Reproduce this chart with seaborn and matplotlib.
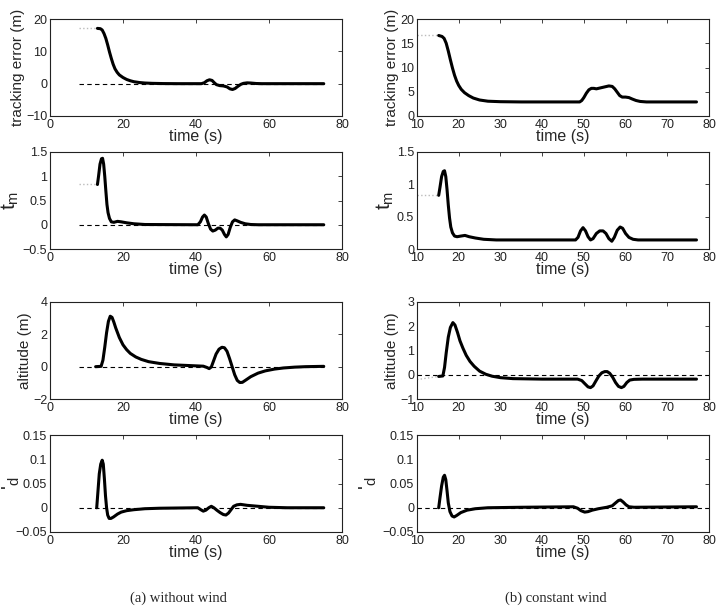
import numpy as np
import matplotlib
matplotlib.use("Agg")
import matplotlib.pyplot as plt
import seaborn as sns

sns.set_theme(style="white")
plt.rcParams.update({
    "font.family": ["Liberation Sans", "DejaVu Sans"],
    "mathtext.default": "regular",
    "xtick.direction": "in",
    "ytick.direction": "in",
    "xtick.top": True,
    "ytick.right": True,
    "xtick.major.size": 3,
    "ytick.major.size": 3,
    "xtick.major.width": 0.6,
    "ytick.major.width": 0.6,
    "axes.edgecolor": "#222222",
    "axes.linewidth": 0.8,
})

# ---- (a) without wind ----
t_err_a = [13, 13.8, 14.3, 14.8, 15.3, 15.8, 16.3, 16.8, 17.3, 17.8, 18.4, 19, 20, 21, 22, 23, 24.5, 26, 28, 31, 35,
           41.5, 42.3, 43, 43.7, 44.4, 45, 45.6, 46.5, 47.5, 48.5, 49.3, 50, 50.7, 51.5, 52.3, 53, 54, 55, 56.5, 58, 75]
e_err_a = [17.1, 17.0, 16.6, 15.5, 14.0, 12.0, 9.8, 7.8, 6.0, 4.6, 3.5, 2.7, 1.9, 1.3, 0.9, 0.6, 0.35, 0.2, 0.1, 0.03, 0.0,
           0.0, 0.3, 0.9, 1.2, 1.0, 0.3, -0.3, -0.6, -0.7, -1.0, -1.6, -1.8, -1.5, -0.8, -0.2, 0.1, 0.25, 0.2, 0.05, 0.0, 0.0]

t_tm_a = [13, 13.3, 13.7, 14.1, 14.4, 14.7, 15, 15.3, 15.6, 15.9, 16.3, 16.8, 17.5, 18.5, 19.5, 21, 23, 26, 40.5,
          41.2, 41.8, 42.3, 42.8, 43.4, 44, 44.6, 45.3, 46, 46.6, 47.2, 47.8, 48.3, 48.8, 49.4, 50, 50.6, 51.3, 52.2,
          53.5, 55, 57, 75]
v_tm_a = [0.83, 1.0, 1.25, 1.36, 1.37, 1.25, 1.0, 0.7, 0.42, 0.25, 0.13, 0.06, 0.05, 0.07, 0.06, 0.04, 0.02, 0.005, 0.0,
          0.06, 0.16, 0.2, 0.16, 0.02, -0.09, -0.13, -0.11, -0.07, -0.07, -0.11, -0.2, -0.25, -0.2, -0.05, 0.06, 0.1,
          0.08, 0.05, 0.02, 0.005, 0.0, 0.0]

t_alt_a = [12.5, 14, 14.5, 15, 15.5, 16, 16.5, 17, 17.5, 18, 19, 20, 21, 22, 23.5, 25, 27, 30, 34, 38, 42, 43, 43.6,
           44.2, 44.8, 45.5, 46.3, 47.1, 47.8, 48.5, 49.2, 49.9, 50.6, 51.3, 52, 52.7, 53.5, 55, 57, 59, 61.5, 64, 67,
           70, 75]
v_alt_a = [0.0, 0.02, 0.4, 1.2, 2.1, 2.8, 3.12, 3.05, 2.75, 2.4, 1.8, 1.35, 1.05, 0.82, 0.6, 0.45, 0.31, 0.2, 0.11,
           0.07, 0.03, -0.05, -0.12, -0.02, 0.35, 0.78, 1.08, 1.2, 1.17, 0.95, 0.5, 0.0, -0.5, -0.85, -0.98, -0.97,
           -0.85, -0.62, -0.4, -0.26, -0.15, -0.08, -0.03, 0.0, 0.02]

t_psi_a = [12.8, 13.1, 13.5, 13.9, 14.3, 14.6, 14.9, 15.2, 15.5, 15.8, 16.2, 16.7, 17.4, 18.5, 19.5, 21, 23, 26, 30,
           40.5, 41.3, 42, 42.7, 43.5, 44.2, 44.9, 45.7, 46.6, 47.5, 48.2, 48.9, 49.6, 50.3, 51.2, 52.2, 54, 57, 60,
           65, 75]
v_psi_a = [0.0, 0.03, 0.07, 0.09, 0.098, 0.09, 0.06, 0.025, 0.0, -0.015, -0.022, -0.022, -0.019, -0.013, -0.009,
           -0.006, -0.004, -0.002, -0.001, 0.0, -0.004, -0.007, -0.005, 0.0, 0.003, 0.0, -0.005, -0.010, -0.014,
           -0.015, -0.011, -0.004, 0.003, 0.006, 0.007, 0.005, 0.003, 0.001, 0.0, 0.0]

# ---- (b) constant wind ----
t_err_b = [15.2, 16, 16.5, 17, 17.5, 18, 18.5, 19, 19.5, 20, 20.6, 21.4, 22.4, 23.5, 25, 27, 30, 35, 49, 49.5, 50,
           50.6, 51.2, 51.8, 52.4, 53, 54, 55, 56, 56.8, 57.4, 58, 58.6, 59.2, 60, 60.8, 61.6, 62.5, 63.5, 65, 77]
e_err_b = [16.6, 16.4, 16.0, 15.0, 13.4, 11.6, 9.9, 8.4, 7.2, 6.3, 5.5, 4.8, 4.2, 3.7, 3.3, 3.05, 2.95, 2.9, 2.9,
           3.2, 3.8, 4.7, 5.4, 5.7, 5.7, 5.6, 5.8, 6.0, 6.2, 6.1, 5.6, 4.9, 4.2, 3.9, 3.9, 3.8, 3.5, 3.2, 3.0, 2.9, 2.9]

t_tm_b = [15.2, 15.5, 15.9, 16.3, 16.6, 16.9, 17.2, 17.5, 17.8, 18.1, 18.5, 19, 19.6, 20.5, 21.5, 22.5, 24, 26, 29,
          48, 48.6, 49.2, 49.8, 50.4, 51, 51.6, 52.2, 53, 53.8, 54.6, 55.3, 56, 56.7, 57.3, 58, 58.7, 59.3, 60, 60.8,
          61.8, 63, 77]
v_tm_b = [0.83, 0.95, 1.12, 1.2, 1.21, 1.12, 0.92, 0.68, 0.48, 0.34, 0.25, 0.2, 0.19, 0.2, 0.21, 0.19, 0.17, 0.15,
          0.14, 0.14, 0.18, 0.28, 0.33, 0.28, 0.19, 0.14, 0.16, 0.24, 0.28, 0.28, 0.24, 0.16, 0.12, 0.18, 0.29, 0.34,
          0.32, 0.24, 0.18, 0.15, 0.14, 0.14]

t_alt_b = [15.2, 16.2, 16.6, 17, 17.5, 18, 18.6, 19.1, 19.7, 20.3, 21, 21.8, 22.7, 23.7, 25, 26.5, 28, 30, 33, 40,
           48.5, 49.5, 50.3, 51, 51.6, 52.2, 52.9, 53.6, 54.3, 55, 55.6, 56.2, 56.9, 57.6, 58.3, 59, 59.6, 60.3, 61,
           62, 64, 77]
v_alt_b = [-0.07, -0.05, 0.3, 0.9, 1.55, 1.95, 2.15, 2.05, 1.75, 1.4, 1.1, 0.8, 0.55, 0.35, 0.15, 0.02, -0.06, -0.12,
           -0.16, -0.18, -0.18, -0.24, -0.38, -0.5, -0.53, -0.46, -0.25, -0.05, 0.08, 0.13, 0.13, 0.06, -0.1, -0.32,
           -0.48, -0.53, -0.48, -0.32, -0.22, -0.19, -0.18, -0.18]

t_psi_b = [15.2, 15.5, 15.9, 16.3, 16.6, 16.9, 17.2, 17.5, 17.9, 18.4, 18.9, 19.5, 20.5, 22, 24, 27, 35, 47.5, 48.5,
           49.3, 50.2, 51, 52, 53.5, 55.5, 56.8, 57.6, 58.3, 58.8, 59.4, 60.1, 60.8, 62, 77]
v_psi_b = [0.0, 0.02, 0.045, 0.063, 0.067, 0.058, 0.035, 0.01, -0.008, -0.017, -0.019, -0.016, -0.01, -0.005, -0.002,
           0.0, 0.001, 0.002, -0.001, -0.006, -0.009, -0.008, -0.005, -0.002, 0.001, 0.004, 0.01, 0.015, 0.016, 0.012,
           0.006, 0.002, 0.001, 0.002]

ylabels = ["tracking error (m)", "t$_{m}$", "altitude (m)", "'$_{d}$"]
ylabel_sizes = [11, 15, 11, 15]

# start-point guide (dotted grey) per panel: (x0, x1, y0, y1)
guides_a = [(8, 13, 17.1, 17.1), (8, 13, 0.83, 0.83), None, None]
guides_b = [(10, 15.2, 16.6, 16.6), (10, 15.2, 0.83, 0.83), (10, 15.2, -0.2, -0.07), None]

cols = {
    "a": dict(series=[(t_err_a, e_err_a), (t_tm_a, v_tm_a), (t_alt_a, v_alt_a), (t_psi_a, v_psi_a)],
              xlim=(0, 80), xticks=[0, 20, 40, 60, 80], zero=(8, 75),
              ylims=[(-10, 20), (-0.5, 1.5), (-2, 4), (-0.05, 0.15)],
              yticks=[[-10, 0, 10, 20], [-0.5, 0, 0.5, 1, 1.5], [-2, 0, 2, 4], [-0.05, 0, 0.05, 0.1, 0.15]],
              ytl=[["\u221210", "0", "10", "20"], ["\u22120.5", "0", "0.5", "1", "1.5"], ["\u22122", "0", "2", "4"],
                   ["\u22120.05", "0", "0.05", "0.1", "0.15"]],
              guides=guides_a, left=50, psi_label_x=22),
    "b": dict(series=[(t_err_b, e_err_b), (t_tm_b, v_tm_b), (t_alt_b, v_alt_b), (t_psi_b, v_psi_b)],
              xlim=(10, 80), xticks=[10, 20, 30, 40, 50, 60, 70, 80], zero=(10, 80),
              ylims=[(0, 20), (0, 1.5), (-1, 3), (-0.05, 0.15)],
              yticks=[[0, 5, 10, 15, 20], [0, 0.5, 1, 1.5], [-1, 0, 1, 2, 3], [-0.05, 0, 0.05, 0.1, 0.15]],
              ytl=[["0", "5", "10", "15", "20"], ["0", "0.5", "1", "1.5"], ["\u22121", "0", "1", "2", "3"],
                   ["\u22120.05", "0", "0.05", "0.1", "0.15"]],
              guides=guides_b, left=417, psi_label_x=379),
}

W, H = 721, 609
fig = plt.figure(figsize=(W / 100, H / 100), dpi=100)
row_tops = [19, 152, 302, 435]
ax_h = 97
ax_w = 292

for key, c in cols.items():
    for r in range(4):
        top = row_tops[r]
        ax = fig.add_axes([c["left"] / W, 1 - (top + ax_h) / H, ax_w / W, ax_h / H])
        g = c["guides"][r]
        if g is not None:
            ax.plot([g[0], g[1]], [g[2], g[3]], ls=":", color="#bbbbbb", lw=1)
        if c["ylims"][r][0] < 0:
            ax.plot(c["zero"], [0, 0], ls="--", color="black", lw=0.8, dashes=(4, 3))
        x, y = c["series"][r]
        sns.lineplot(x=x, y=y, ax=ax, color="black", lw=2.2, sort=False)
        ax.set_xlim(*c["xlim"])
        ax.set_ylim(*c["ylims"][r])
        ax.set_xticks(c["xticks"])
        ax.set_yticks(c["yticks"][r])
        ax.set_yticklabels(c["ytl"][r])
        ax.tick_params(labelsize=9, colors="#222222", pad=2)
        ax.set_xlabel("time (s)", fontsize=11.5, labelpad=-1)
        ax.set_ylabel(ylabels[r], fontsize=ylabel_sizes[r], labelpad=1)
        if r == 3:
            ax.yaxis.set_label_coords((c["psi_label_x"] - c["left"]) / ax_w, 0.5)

fig.text(178 / W, 1 - 598 / H, "(a) without wind", ha="center", va="center",
         fontsize=10.5, family=["Liberation Serif", "DejaVu Serif"])
fig.text(556 / W, 1 - 598 / H, "(b) constant wind", ha="center", va="center",
         fontsize=10.5, family=["Liberation Serif", "DejaVu Serif"])

fig.savefig("out.png", dpi=100)
